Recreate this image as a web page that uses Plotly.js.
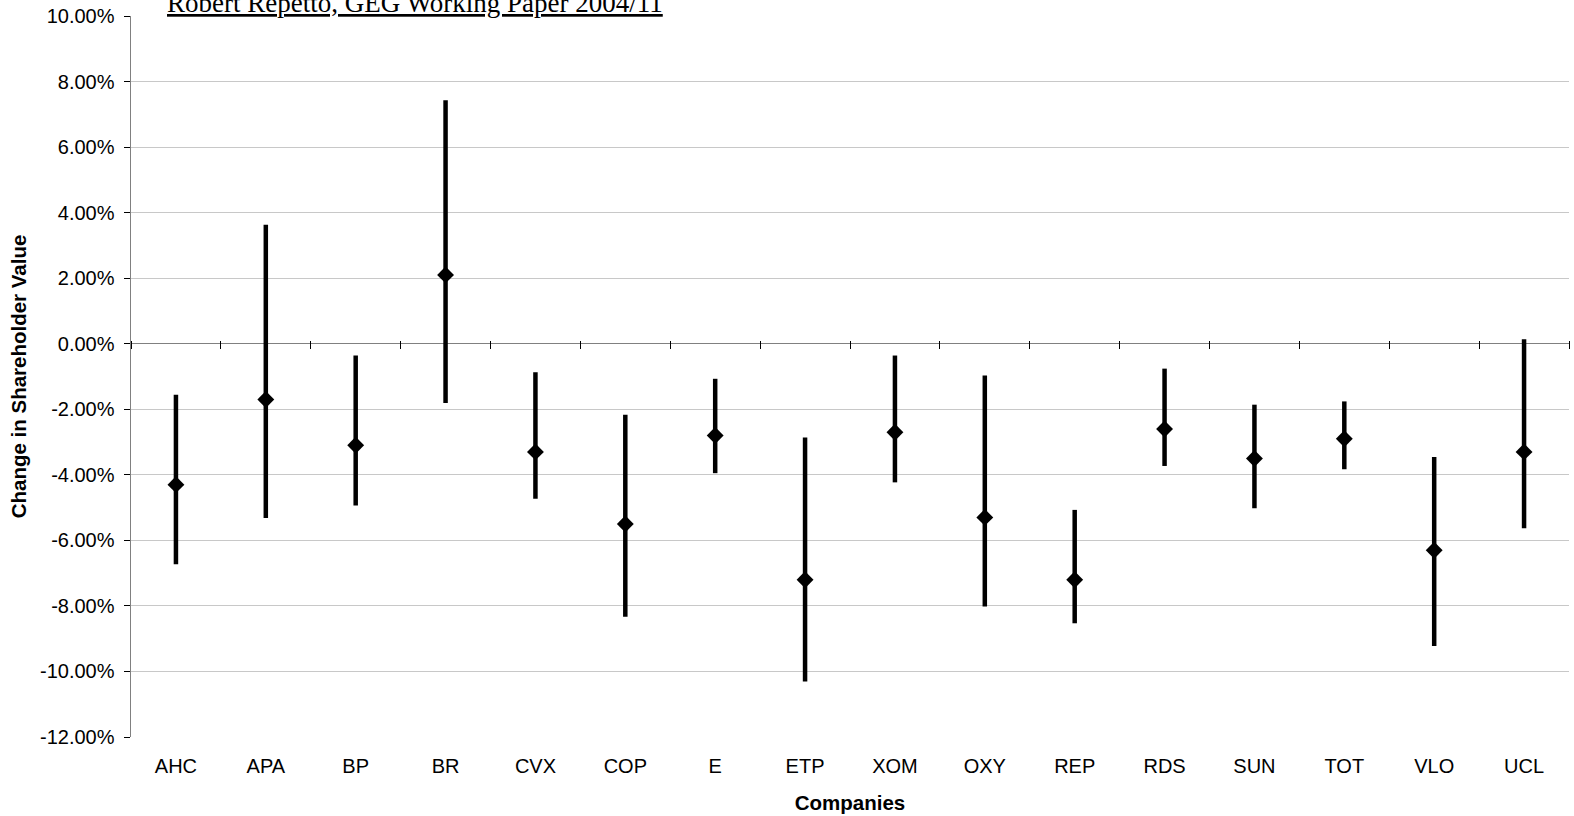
<!DOCTYPE html>
<html>
<head>
<meta charset="utf-8">
<script src="https://cdn.plot.ly/plotly-3.0.1.min.js"></script>
<style>html,body{margin:0;padding:0;background:#fff;}#chart{width:1574px;height:816px;}</style>
</head>
<body>
<div id="chart"></div>
<script>
var companies = ["AHC","APA","BP","BR","CVX","COP","E","ETP","XOM","OXY","REP","RDS","SUN","TOT","VLO","UCL"];
var central = [-4.3,-1.7,-3.1,2.1,-3.3,-5.5,-2.8,-7.2,-2.7,-5.3,-7.2,-2.6,-3.5,-2.9,-6.3,-3.3];
var upper   = [-1.56,3.63,-0.36,7.43,-0.87,-2.17,-1.07,-2.86,-0.36,-0.97,-5.07,-0.76,-1.86,-1.76,-3.46,0.14];
var lower   = [-6.73,-5.32,-4.94,-1.81,-4.73,-8.33,-3.95,-10.31,-4.23,-8.02,-8.53,-3.73,-5.02,-3.83,-9.22,-5.63];
var yTicks  = [10,8,6,4,2,0,-2,-4,-6,-8,-10,-12];
var sourceNote = "Robert Repetto, GEG Working Paper 2004/11";

var errPlus = central.map(function(v,i){return upper[i]-v;});
var errMinus = central.map(function(v,i){return v-lower[i];});
var boundaries = [];
for (var i = 0; i <= companies.length; i++) boundaries.push(i - 0.5);

var traces = [
  {
    type: 'scatter', mode: 'markers', x: companies, y: central,
    marker: {symbol: 'diamond', size: 13, color: '#000'},
    error_y: {type: 'data', symmetric: false, array: errPlus, arrayminus: errMinus,
              color: '#000', thickness: 4.5, width: 0},
    showlegend: false, hoverinfo: 'x+y'
  },
  {
    type: 'scatter', mode: 'markers', x: [], y: [], xaxis: 'x2', yaxis: 'y',
    showlegend: false, hoverinfo: 'skip'
  }
];

var fam = 'Liberation Sans, Arial, sans-serif';

var layout = {
  width: 1574, height: 816,
  margin: {l: 131, r: 5, t: 16, b: 79},
  paper_bgcolor: '#fff', plot_bgcolor: '#fff',
  showlegend: false,
  font: {family: fam, size: 20, color: '#000'},
  xaxis: {
    type: 'category', range: [-0.5, companies.length - 0.5],
    showgrid: false, zeroline: false, showline: false,
    ticks: '', ticklabelstandoff: 15,
    tickfont: {family: fam, size: 20, color: '#000'},
    title: {text: '<b>Companies</b>', font: {family: fam, size: 20.5, color: '#000'}, standoff: 19}
  },
  xaxis2: {
    type: 'linear', overlaying: 'x', anchor: 'free', position: (737 - 340) / 721,
    side: 'bottom', range: [-0.5, companies.length - 0.5],
    tickmode: 'array', tickvals: boundaries, showticklabels: false,
    ticks: 'outside', ticklen: 8, tickwidth: 1, tickcolor: '#000',
    showgrid: false, zeroline: false, showline: false
  },
  yaxis: {
    range: [-12, 10], tickmode: 'array', tickvals: yTicks,
    ticktext: yTicks.map(function(v){return v.toFixed(2) + '%';}),
    showgrid: true, gridcolor: '#c8c8c8', gridwidth: 1,
    zeroline: true, zerolinecolor: '#808080', zerolinewidth: 1.5,
    showline: true, linecolor: '#808080', linewidth: 1.5,
    ticks: 'outside', ticklen: 6, tickwidth: 1, tickcolor: '#000',
    ticklabelstandoff: 5,
    tickfont: {family: fam, size: 20, color: '#000'},
    title: {text: '<b>Change in Shareholder Value</b>', font: {family: fam, size: 20.5, color: '#000'}, standoff: 8}
  },
  annotations: [{
    text: '<u>' + sourceNote + '</u>', showarrow: false,
    xref: 'paper', yref: 'paper', x: (165 - 131) / 1438, xanchor: 'left',
    y: (737 - 3) / 721, yanchor: 'middle',
    font: {family: 'Liberation Serif, Times New Roman, serif', size: 27, color: '#000'}
  }]
};

Plotly.newPlot('chart', traces, layout, {displayModeBar: false, staticPlot: true});
</script>
</body>
</html>
